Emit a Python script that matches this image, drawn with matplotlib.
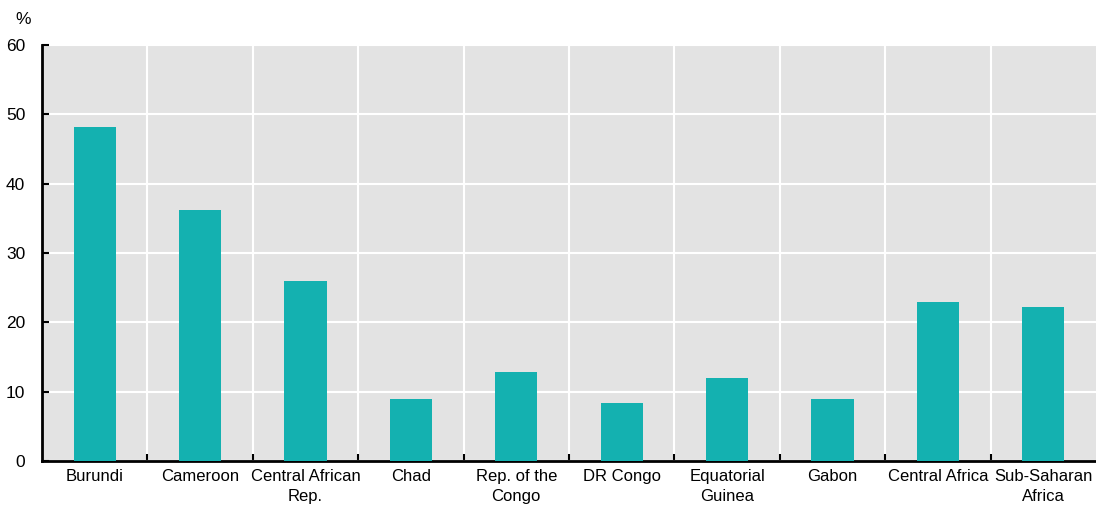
import numpy as np
import matplotlib
matplotlib.use('Agg')
import matplotlib.pyplot as plt
from matplotlib.ticker import FixedLocator

plt.rcParams['font.family'] = ['Liberation Sans Narrow', 'Liberation Sans', 'DejaVu Sans']

categories = ['Burundi', 'Cameroon', 'Central African\nRep.', 'Chad', 'Rep. of the\nCongo',
              'DR Congo', 'Equatorial\nGuinea', 'Gabon', 'Central Africa', 'Sub-Saharan\nAfrica']
values = [48.2, 36.2, 26.0, 8.9, 12.8, 8.4, 12.0, 8.9, 22.9, 22.2]
yticks = [0, 10, 20, 30, 40, 50, 60]

fig = plt.figure(figsize=(10.96, 5.07), dpi=100)
ax = fig.add_axes([42/1096, 46/507, 1 - 42/1096, 416/507])
ax.set_facecolor('#e3e3e3')

x = np.arange(len(categories))
ax.bar(x, values, width=0.4, color='#14b1b0', zorder=3)

ax.set_xlim(-0.5, len(categories) - 0.5)
ax.set_ylim(0, 60)
ax.set_yticks(yticks)
ax.set_xticks(x)
ax.set_xticklabels(categories, fontsize=12, linespacing=1.4)
ax.xaxis.set_minor_locator(FixedLocator(np.arange(0.5, len(categories) - 0.5, 1)))
ax.tick_params(axis='x', which='major', length=0, pad=6)
ax.tick_params(axis='x', which='minor', direction='in', length=5, width=1.5, color='black')
ax.tick_params(axis='y', direction='in', length=5, width=1.5, labelsize=12.5, pad=12)

ax.grid(axis='y', color='white', linewidth=1.5, zorder=1)
ax.grid(axis='x', which='minor', color='white', linewidth=1.5, zorder=1)

for s in ['top', 'right']:
    ax.spines[s].set_visible(False)
ax.spines['left'].set_linewidth(2)
ax.spines['bottom'].set_linewidth(2)

fig.text(15/1096, 1 - 20/507, '%', fontsize=12.5, va='center', ha='left')

fig.savefig('out.png', dpi=100)
